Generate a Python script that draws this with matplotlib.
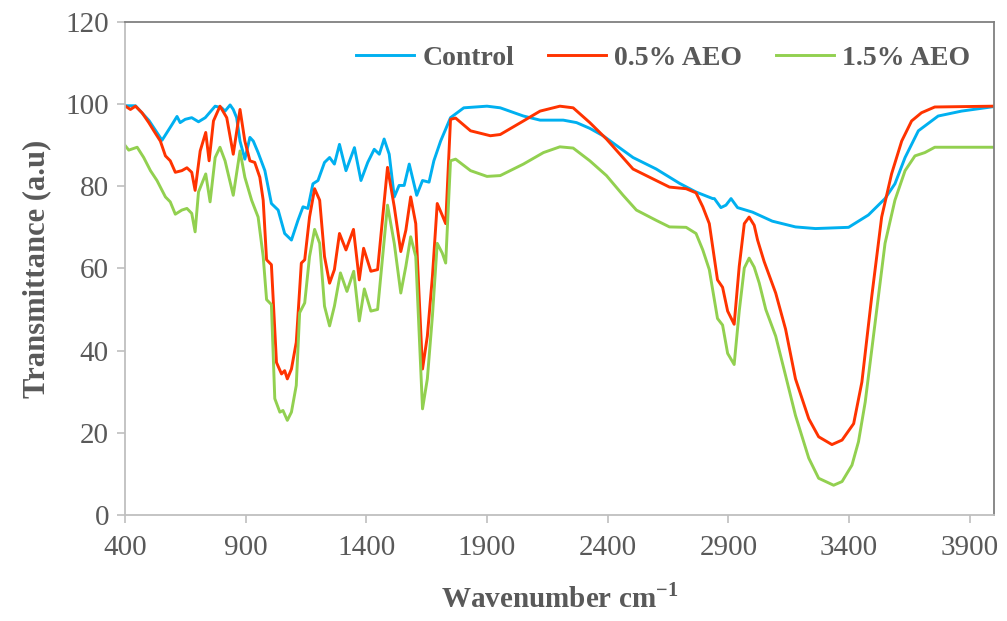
import matplotlib
matplotlib.use('Agg')
import matplotlib.pyplot as plt

plt.rcParams['font.family'] = ['Liberation Serif', 'DejaVu Serif']
plt.rcParams['mathtext.fontset'] = 'custom'
plt.rcParams['mathtext.rm'] = 'Liberation Serif:bold'
plt.rcParams['mathtext.bf'] = 'Liberation Serif:bold'

# Control
control_wn = [400, 444, 500, 554, 595, 616, 629, 650, 677, 705, 733, 774, 801, 815, 836, 849, 863,
              877, 897, 918, 932, 952, 980, 1007, 1035, 1062, 1090, 1117, 1138, 1158, 1179, 1200,
              1227, 1248, 1268, 1289, 1316, 1351, 1378, 1406, 1433, 1454, 1474, 1495, 1516, 1536,
              1557, 1578, 1609, 1633, 1660, 1680, 1708, 1749, 1804, 1900, 1955, 2051, 2120, 2216,
              2271, 2326, 2381, 2437, 2505, 2601, 2698, 2766, 2835, 2842, 2869, 2890, 2911, 2938,
              3000, 3082, 3178, 3261, 3398, 3480, 3549, 3590, 3632, 3687, 3769, 3866, 4000]
control_t = [99.6, 99.6, 96.0, 91.2, 95.0, 97.0, 95.5, 96.3, 96.7, 95.7, 96.7, 99.5, 99.1, 98.3, 99.8,
             98.7, 96.7, 91.0, 86.6, 91.9, 91.0, 88.2, 83.8, 75.8, 74.2, 68.5, 66.9, 71.7, 75.0,
             74.6, 80.6, 81.4, 85.8, 87.0, 85.4, 90.2, 83.8, 89.4, 81.4, 85.8, 89.0, 87.8, 91.5,
             87.8, 77.4, 80.2, 80.2, 85.4, 77.8, 81.4, 81.0, 86.2, 91.0, 96.7, 99.1, 99.5, 99.1,
             97.1, 96.1, 96.1, 95.5, 94.1, 92.3, 89.9, 87.0, 84.2, 80.7, 78.6, 77.0, 77.0, 74.8,
             75.4, 77.0, 74.8, 73.7, 71.5, 70.1, 69.7, 70.0, 73.0, 77.0, 80.6, 87.0, 93.5, 97.1,
             98.3, 99.4]

# 0.5% AEO
aeo05_wn = [400, 423, 444, 471, 499, 520, 547, 568, 588, 609, 636, 657, 677, 691, 712, 735, 749, 767,
            794, 822, 849, 877, 897, 918, 938, 959, 973, 987, 1007, 1028, 1049, 1062, 1073, 1090,
            1110, 1131, 1145, 1165, 1186, 1207, 1227, 1248, 1268, 1289, 1316, 1347, 1371, 1389,
            1419, 1447, 1488, 1516, 1543, 1564, 1584, 1605, 1633, 1653, 1674, 1694, 1715, 1729,
            1749, 1770, 1832, 1914, 1955, 2051, 2120, 2202, 2257, 2326, 2395, 2505, 2601, 2656,
            2725, 2766, 2794, 2821, 2855, 2876, 2897, 2924, 2945, 2966, 2986, 3007, 3021, 3048,
            3096, 3137, 3178, 3233, 3274, 3329, 3371, 3419, 3453, 3494, 3535, 3576, 3618, 3659,
            3700, 3755, 4000]
aeo05_t = [99.6, 98.7, 99.5, 97.9, 95.5, 93.5, 91.0, 87.4, 86.2, 83.4, 83.8, 84.5, 83.4, 79.0, 88.6,
           93.1, 86.2, 95.9, 99.5, 96.7, 87.8, 98.7, 91.0, 86.2, 85.8, 82.2, 76.6, 62.1, 60.9, 37.1,
           34.3, 35.1, 33.1, 35.5, 42.0, 61.3, 62.1, 72.5, 79.4, 76.6, 62.9, 56.4, 59.7, 68.5, 64.5,
           69.5, 57.2, 64.9, 59.3, 59.7, 84.6, 75.0, 64.1, 69.3, 77.4, 70.9, 35.5, 43.5, 58.0, 75.8,
           72.9, 70.9, 96.3, 96.6, 93.5, 92.3, 92.6, 95.9, 98.3, 99.5, 99.1, 95.5, 91.5, 84.2, 81.4,
           79.8, 79.4, 78.4, 75.0, 70.9, 57.2, 55.4, 49.6, 46.4, 60.5, 70.9, 72.5, 70.5, 66.9, 61.7,
           54.0, 45.2, 33.1, 23.4, 19.0, 17.1, 18.2, 22.2, 32.3, 53.2, 72.5, 83.0, 91.0, 95.9, 97.9,
           99.3, 99.5]

# 1.5% AEO
aeo15_wn = [400, 416, 451, 478, 506, 533, 568, 588, 609, 636, 657, 677, 691, 705, 735, 753, 774, 794,
            815, 849, 877, 897, 925, 952, 973, 987, 1007, 1021, 1042, 1055, 1073, 1090, 1110, 1124,
            1145, 1165, 1186, 1207, 1227, 1248, 1268, 1293, 1320, 1348, 1371, 1392, 1419, 1447,
            1488, 1516, 1543, 1564, 1584, 1605, 1633, 1653, 1674, 1694, 1715, 1729, 1749, 1770,
            1832, 1900, 1955, 2051, 2134, 2202, 2257, 2326, 2395, 2464, 2519, 2601, 2656, 2725,
            2766, 2794, 2821, 2855, 2876, 2897, 2924, 2945, 2966, 2986, 3007, 3028, 3055, 3096,
            3137, 3178, 3233, 3274, 3336, 3371, 3412, 3439, 3467, 3508, 3549, 3590, 3632, 3673,
            3714, 3755, 4000]
aeo15_t = [90.0, 88.8, 89.5, 87.0, 83.8, 81.4, 77.4, 76.2, 73.2, 74.2, 74.6, 73.4, 68.9, 78.6, 83.0,
           76.2, 87.0, 89.5, 86.2, 77.8, 88.6, 82.2, 76.6, 72.5, 62.9, 52.4, 51.2, 28.3, 25.0, 25.4,
           23.0, 25.0, 31.5, 49.2, 51.6, 62.9, 69.5, 66.1, 50.8, 46.0, 50.8, 58.9, 54.4, 59.3, 47.2,
           55.0, 49.6, 50.0, 75.4, 66.1, 54.0, 60.5, 67.7, 62.9, 25.8, 33.1, 48.4, 66.1, 63.7, 61.3,
           86.2, 86.6, 83.8, 82.4, 82.6, 85.4, 88.2, 89.6, 89.3, 86.2, 82.6, 77.8, 74.2, 71.7, 70.1,
           70.0, 68.5, 64.5, 59.7, 47.8, 46.2, 39.3, 36.6, 49.6, 60.1, 62.5, 60.3, 56.4, 50.0, 43.5,
           33.9, 24.2, 13.8, 8.9, 7.2, 8.1, 12.1, 17.8, 27.5, 46.8, 66.1, 76.6, 83.8, 87.4, 88.2,
           89.5, 89.5]

fig = plt.figure(figsize=(10.07, 6.21), dpi=100)
ax = fig.add_axes([0.124, 0.171, 0.863, 0.7936])

ax.plot(control_wn, control_t, color='#00B0F0', lw=2.1, label='Control')
ax.plot(aeo05_wn, aeo05_t, color='#FF3300', lw=2.1, label='0.5% AEO')
ax.plot(aeo15_wn, aeo15_t, color='#92D050', lw=2.1, label='1.5% AEO')

ax.set_xlim(400, 4000)
ax.set_ylim(0, 120)
ax.set_xticks(range(400, 4000, 500))
ax.set_yticks(range(0, 121, 20))

for side in ['left', 'bottom']:
    ax.spines[side].set_color('#bfbfbf')
    ax.spines[side].set_linewidth(1.3)
for side in ['top', 'right']:
    ax.spines[side].set_color('#808080')
    ax.spines[side].set_linewidth(1.3)

ax.tick_params(axis='both', direction='out', length=5.5, width=1.2, color='#bfbfbf',
               labelsize=21, labelcolor='#595959')
ax.tick_params(axis='x', pad=9)
ax.tick_params(axis='y', pad=6)

ax.set_xlabel(r'Wavenumber cm$^{-1}$', fontsize=21, fontweight='bold', color='#595959', labelpad=16)
ax.set_ylabel('Transmittance (a.u)', fontsize=22, fontweight='bold', color='#595959', labelpad=10)

leg = ax.legend(loc='upper right', bbox_to_anchor=(1.0, 1.0), ncol=3, frameon=False,
                prop={'weight': 'bold', 'size': 20}, handlelength=2.1, handletextpad=0.3,
                columnspacing=1.2, borderaxespad=0.45)
for t in leg.get_texts():
    t.set_color('#595959')

fig.savefig('out.png', dpi=100)
